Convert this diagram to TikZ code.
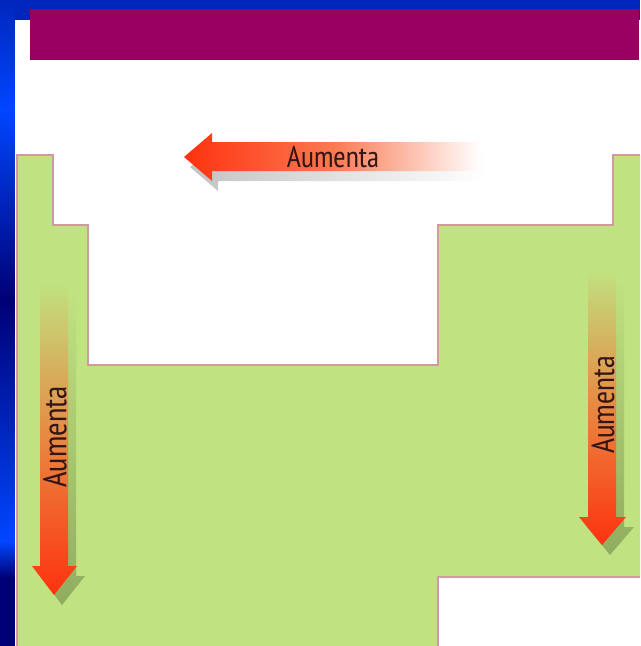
\documentclass[tikz,border=0pt]{standalone}
\usepackage{fontspec}
\newfontfamily\tagfont{PT Sans Narrow}
\usepackage{tikz}
\definecolor{frameblue}{RGB}{0,38,190}
\definecolor{framebright}{RGB}{0,70,255}
\definecolor{framenavy}{RGB}{0,0,118}
\definecolor{titleplum}{RGB}{153,0,96}
\definecolor{tablegreen}{RGB}{192,226,128}
\definecolor{tableedge}{RGB}{205,155,160}
\definecolor{arrowred}{RGB}{255,50,15}
\definecolor{arrowmid}{RGB}{250,120,80}
\definecolor{arroworange}{RGB}{232,135,65}
\definecolor{shadowgray}{RGB}{195,195,195}
\definecolor{shadowgreen}{RGB}{145,172,95}
\definecolor{tagdark}{RGB}{50,22,22}
\tikzset{
  edge/.style={draw=tableedge, line width=1.1pt, line join=miter},
  hshaft/.style={left color=arrowred, right color=white, middle color=arrowmid},
  hshadow/.style={left color=shadowgray, right color=white},
  vshaft/.style={top color=tablegreen, bottom color=arrowred, middle color=arroworange},
  vshadow/.style={top color=tablegreen, bottom color=shadowgreen},
  tag/.style={font=\tagfont\fontsize{#1}{#1}\selectfont, text=tagdark, inner sep=0pt},
  tag/.default=25.5
}
\begin{document}
\begin{tikzpicture}[x=0.03cm, y=-0.03cm]
  \useasboundingbox (0,0) rectangle (640,646);
  % slide frame
  \fill[frameblue] (0,0) rectangle (640,20);
  \shade[top color=frameblue, bottom color=framebright] (0,0) rectangle (15,110);
  \shade[top color=framebright, bottom color=framenavy] (0,110) rectangle (15,300);
  \shade[top color=framenavy, bottom color=framebright] (0,300) rectangle (15,541);
  \shade[top color=framebright, bottom color=framenavy] (0,541) rectangle (15,578);
  \fill[framenavy] (0,578) rectangle (15,646);
  \fill[white] (15,20) rectangle (640,646);
  \fill[titleplum] (30,9) rectangle (639,60);

  % table outline
  \fill[tablegreen] (17,155) -- (53,155) -- (53,225) -- (88,225) -- (88,365)
    -- (438,365) -- (438,225) -- (613,225) -- (613,155) -- (640,155)
    -- (640,577) -- (438,577) -- (438,646) -- (17,646) -- cycle;
  \draw[edge] (17,646) -- (17,155) -- (53,155) -- (53,225) -- (88,225) -- (88,365)
    -- (438,365) -- (438,225) -- (613,225) -- (613,155) -- (640,155);
  \draw[edge] (640,577) -- (438,577) -- (438,646);

  % arrow along the period
  \begin{scope}[shift={(6,10)}]
    \shade[hshadow] (480,142) -- (212,142) -- (212,133) -- (184,157) -- (212,181)
      -- (212,171) -- (480,171) -- cycle;
  \end{scope}
  \shade[hshaft] (480,142) -- (212,142) -- (212,133) -- (184,157) -- (212,181)
    -- (212,171) -- (480,171) -- cycle;
  \node[tag] (periodtag) at (333,157) {Aumenta};

  % arrow down the first group
  \begin{scope}[shift={(8,10)}]
    \shade[vshadow] (40,283) -- (68,283) -- (68,566) -- (77,566) -- (54,595)
      -- (32,566) -- (40,566) -- cycle;
  \end{scope}
  \shade[vshaft] (40,283) -- (68,283) -- (68,566) -- (77,566) -- (54,595)
    -- (32,566) -- (40,566) -- cycle;
  \node[tag=28, rotate=90] (lefttag) at (55,437) {Aumenta};

  % arrow down the last group
  \begin{scope}[shift={(8,10)}]
    \shade[vshadow] (588,270) -- (616,270) -- (616,517) -- (626,517) -- (602,545)
      -- (579,517) -- (588,517) -- cycle;
  \end{scope}
  \shade[vshaft] (588,270) -- (616,270) -- (616,517) -- (626,517) -- (602,545)
    -- (579,517) -- (588,517) -- cycle;
  \node[tag=27, rotate=90] (righttag) at (603,405) {Aumenta};
\end{tikzpicture}
\end{document}
